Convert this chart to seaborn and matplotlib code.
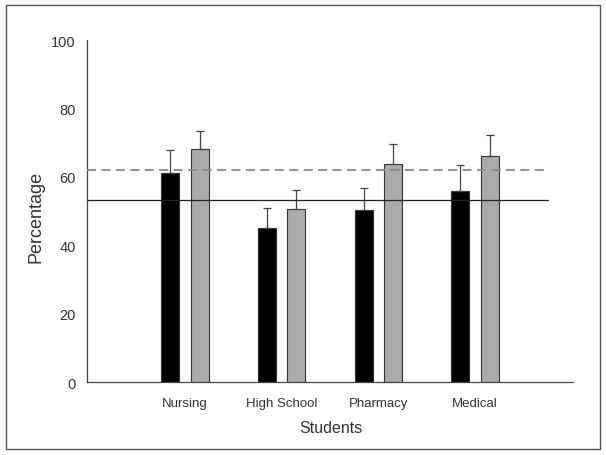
import pandas as pd
import matplotlib.pyplot as plt
import seaborn as sns
from matplotlib.patches import Rectangle

# -----------------------------
# Data
# -----------------------------
students = ["Nursing", "High School", "Pharmacy", "Medical"]
group_a = [61.0, 45.0, 50.2, 55.9]      # black bars
group_b = [68.1, 50.6, 63.7, 66.2]      # gray bars
err_a = [6.8, 5.8, 6.6, 7.6]
err_b = [5.4, 5.6, 5.8, 6.0]
mean_a = 53.2   # solid line
mean_b = 62.0   # dashed line

df = pd.DataFrame({
    "Students": students * 2,
    "Percentage": group_a + group_b,
    "Group": ["A"] * 4 + ["B"] * 4,
})

# -----------------------------
# Theme
# -----------------------------
sns.set_theme(style="white")
plt.rcParams["font.family"] = ["Liberation Sans", "DejaVu Sans"]
text_color = "#333333"

fig = plt.figure(figsize=(6.06, 4.56), dpi=100)
ax = fig.add_axes([0.1436, 0.160, 0.8019, 0.750])

sns.barplot(
    data=df,
    x="Students",
    y="Percentage",
    hue="Group",
    palette=["#000000", "#aaaaaa"],
    width=0.61,
    gap=0.39,
    edgecolor="#333333",
    linewidth=0.8,
    legend=False,
    ax=ax,
)

# upper-only error bars, placed from the drawn bars
for container, errs in zip(ax.containers, [err_a, err_b]):
    xs = [p.get_x() + p.get_width() / 2 for p in container.patches]
    ys = [p.get_height() for p in container.patches]
    ax.errorbar(
        xs, ys,
        yerr=[[0] * len(errs), errs],
        fmt="none",
        ecolor="#444444",
        elinewidth=0.9,
        capsize=3,
        capthick=0.9,
        zorder=3,
    )

ax.set_xlim(-1.01, 4.01)
ax.set_ylim(0, 100)

# reference lines
line_end = (3.75 + 1.01) / 5.02
ax.axhline(mean_b, xmin=0, xmax=line_end, color="#8a8a8a",
           linestyle=(0, (5, 3)), linewidth=1.3, zorder=4)
ax.axhline(mean_a, xmin=0, xmax=line_end, color="#222222",
           linewidth=0.9, zorder=4)

ax.set_yticks([0, 20, 40, 60, 80, 100])
sns.despine(ax=ax)
for s in ["left", "bottom"]:
    ax.spines[s].set_color("#444444")
    ax.spines[s].set_linewidth(0.9)

ax.tick_params(axis="both", direction="out", length=4, width=0.8,
               colors="#444444", labelcolor=text_color)
ax.tick_params(axis="y", pad=4, labelsize=10.5)
ax.tick_params(axis="x", pad=7, labelsize=9.5)

ax.set_xlabel("Students", fontsize=11.5, color=text_color)
ax.set_ylabel("Percentage", fontsize=13, color=text_color)
ax.xaxis.set_label_coords(0.502, -0.112)
ax.yaxis.set_label_coords(-0.088, 0.485)

# outer frame
fig.patches.append(Rectangle((6 / 606, 6 / 456), 594 / 606, 444 / 456,
                             transform=fig.transFigure, fill=False,
                             edgecolor="#555555", linewidth=1.0))

plt.savefig("out.png", dpi=100)
plt.close()
